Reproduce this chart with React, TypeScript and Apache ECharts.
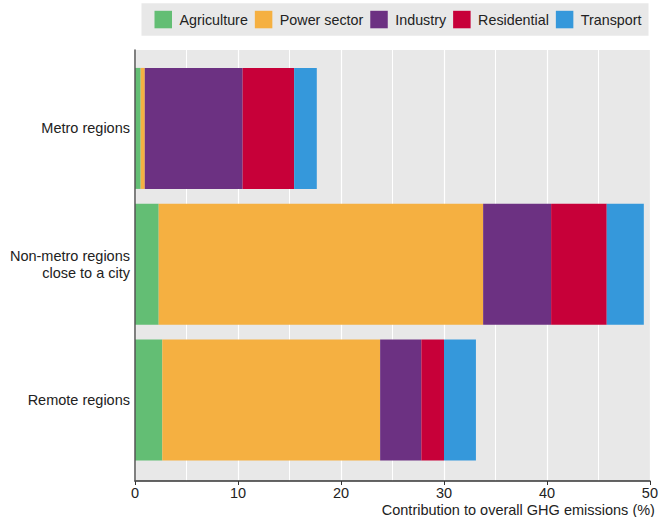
import * as echarts from "echarts";
import { useEffect, useRef } from "react";

const regions = ["Remote regions", "Non-metro regions\nclose to a city", "Metro regions"];
const agriculture = [2.65, 2.3, 0.55];
const powerSector = [21.15, 31.5, 0.4];
const industry = [4.0, 6.6, 9.5];
const residential = [2.2, 5.4, 5.0];
const transport = [3.1, 3.6, 2.2];

const sectorNames = ["Agriculture", "Power sector", "Industry", "Residential", "Transport"];
const sectorColors = ["#63be74", "#f5b041", "#6c3182", "#c70039", "#3598db"];
const sectorValues = [agriculture, powerSector, industry, residential, transport];

const font = "Liberation Sans, Arial, sans-serif";

export default function App() {
  const chartRef = useRef<HTMLDivElement>(null);

  useEffect(() => {
    if (!chartRef.current) return;
    const chart = echarts.init(chartRef.current, undefined, { renderer: "svg" });

    chart.setOption({
      animation: false,
      backgroundColor: "#ffffff",
      textStyle: { fontFamily: font },
      legend: {
        right: 12.5,
        top: 3.3,
        padding: [7.5, 7, 7.5, 13],
        backgroundColor: "#e8e8e8",
        icon: "rect",
        itemWidth: 17.5,
        itemHeight: 17.5,
        itemGap: 7,
        textStyle: {
          fontSize: 14.3,
          color: "#222",
          fontFamily: font,
          padding: [0, 0, 0, 2.5]
        },
        data: sectorNames
      },
      grid: [
        {
          left: 135,
          right: 11,
          top: 50,
          bottom: 36,
          show: true,
          backgroundColor: "#e8e8e8",
          borderWidth: 0
        },
        {
          left: 135,
          right: 11,
          top: 60.5,
          bottom: 49
        }
      ],
      xAxis: [
        {
          gridIndex: 0,
          type: "value",
          min: 0,
          max: 50,
          interval: 10,
          name: "Contribution to overall GHG emissions (%)",
          nameLocation: "end",
          nameGap: 5,
          nameTextStyle: {
            fontSize: 14.5,
            color: "#222",
            align: "right",
            verticalAlign: "top",
            padding: [21, 0, 0, 0]
          },
          axisLine: { show: true, lineStyle: { color: "#333", width: 1.5 } },
          axisTick: { show: true, length: 4, lineStyle: { color: "#333" } },
          axisLabel: { fontSize: 14.5, color: "#222", margin: 4 },
          splitLine: { show: true, lineStyle: { color: "#ffffff", width: 1.2 } },
          minorTick: { show: false, splitNumber: 2 },
          minorSplitLine: { show: true, lineStyle: { color: "#ffffff", width: 1 } }
        },
        {
          gridIndex: 1,
          type: "value",
          min: 0,
          max: 50,
          show: false
        }
      ],
      yAxis: [
        {
          gridIndex: 0,
          type: "value",
          min: 0,
          max: 1,
          z: 10,
          axisLine: { show: true, lineStyle: { color: "#555", width: 1.5 } },
          axisTick: { show: false },
          axisLabel: { show: false },
          splitLine: { show: false }
        },
        {
          gridIndex: 1,
          type: "category",
          data: regions,
          axisLine: { show: false },
          axisTick: { show: false },
          axisLabel: {
            fontSize: 14.5,
            color: "#222",
            margin: 5,
            lineHeight: 17,
            align: "right"
          }
        }
      ],
      series: sectorNames.map((name, i) => ({
        name,
        type: "bar",
        stack: "total",
        xAxisIndex: 1,
        yAxisIndex: 1,
        barWidth: 121,
        itemStyle: { color: sectorColors[i] },
        data: sectorValues[i]
      }))
    });

    return () => {
      chart.dispose();
    };
  }, []);

  return (
    <div
      ref={chartRef}
      style={{ position: "fixed", left: 0, top: 0, width: 661, height: 517 }}
    />
  );
}
